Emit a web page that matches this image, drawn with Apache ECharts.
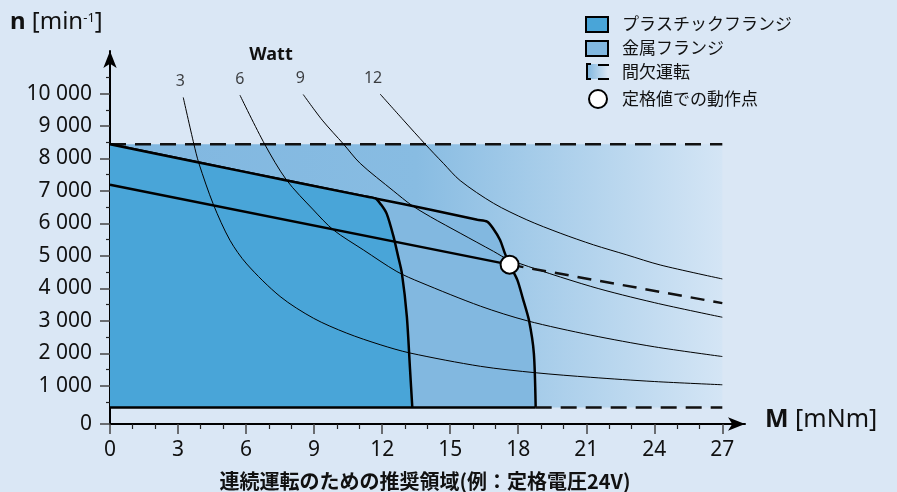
<!DOCTYPE html>
<html><head><meta charset="utf-8">
<script src="https://cdn.jsdelivr.net/npm/echarts@6/dist/echarts.min.js"></script>
<style>html,body{margin:0;padding:0;background:#dae7f5;}#c{width:897px;height:492px;}</style>
</head><body><div id="c"></div>
<script>
// ---- data ----
const xTicks = [0, 3, 6, 9, 12, 15, 18, 21, 24, 27];
const xMinorTicks = [1, 2, 4, 5, 7, 8, 10, 11, 13, 14, 16, 17, 19, 20, 22, 23, 25, 26];
const yTicks = [0, 1000, 2000, 3000, 4000, 5000, 6000, 7000, 8000, 9000, 10000];
const yMinorTicks = [500, 1500, 2500, 3500, 4500, 5500, 6500, 7500, 8500, 9500, 10500];
const wattNames = ['3', '6', '9', '12'];
const curve3W = [[3.23, 9880], [3.7, 8440], [3.92, 7850], [4.56, 6580], [5.29, 5480], [6.03, 4750], [7.5, 3750], [8.97, 3080], [10.44, 2620], [11.91, 2265], [13.23, 2008], [16.34, 1598], [18.77, 1400], [21.2, 1260], [24.0, 1130], [27, 1030]];
const curve6W = [[5.73, 9950], [6.82, 8440], [7.79, 7330], [8.97, 6415], [9.85, 5800], [11.17, 5185], [12.65, 4517], [13.67, 4190], [16.34, 3450], [18.4, 3000], [21.2, 2560], [24.0, 2200], [27, 1900]];
const curve9W = [[8.52, 9970], [9.36, 9180], [10.3, 8440], [11.03, 7850], [12.5, 7000], [13.3, 6560], [14.14, 6200], [15.44, 5700], [16.91, 5140], [17.6, 4880], [21.2, 4060], [24.0, 3560], [27, 3110]];
const curve12W = [[11.91, 9985], [12.94, 9180], [13.9, 8440], [14.7, 7850], [15.44, 7320], [16.91, 6620], [18.38, 6110], [19.85, 5700], [21.32, 5340], [22.79, 5030], [24.26, 4720], [27, 4290]];
const plasticFlange = [[0, 8440], [3.86, 7885], [7.79, 7320], [11.2, 6840], [11.7, 6770], [11.95, 6580], [12.2, 6300], [12.5, 5600], [12.7, 5000], [12.87, 4470], [13.09, 3130], [13.23, 1500], [13.33, 330]];
const metalFlange = [[0, 8440], [3.86, 7885], [7.79, 7320], [11.7, 6770], [14.14, 6420], [16.2, 6110], [16.63, 6055], [16.88, 5860], [17.2, 5490], [17.4, 5100], [17.62, 4730], [17.96, 4260], [18.2, 3700], [18.47, 3030], [18.69, 2000], [18.77, 330]];
const intermittentTop = [[0, 8440], [27, 8440]];
const baseSpeed = 330;
const baseSolid = [[0, 330], [18.77, 330]];
const baseDashed = [[18.77, 330], [27, 330]];
const unSolid = [[0, 7190], [17.62, 4730]];
const unDashed = [[17.62, 4730], [27, 3545]];
const ratedPoint = [[17.62, 4730]];
const legendNames = ['プラスチックフランジ', '金属フランジ', '間欠運転', '定格値での動作点'];

// ---- layout / style ----
const Y_MIN = -178, Y_MAX = 11310, X_MAX = 28;
const FONT = "'Noto Sans', 'Noto Sans CJK JP', sans-serif";
const JP = "'Noto Sans CJK JP', 'Noto Sans', sans-serif";
const fmtY = v => v <= Y_MIN ? '0' : String(v).replace(/\B(?=(\d{3})+(?!\d))/g, ' ');
const yMajor = yTicks.map(v => v === 0 ? Y_MIN : v);
const wattLabelOffsets = [[-3, 0], [0, 0], [-3, 0], [-7, 0]];
const curves = [curve3W, curve6W, curve9W, curve12W];

const chart = echarts.init(document.getElementById('c'), null, {renderer: 'canvas'});

const thin = data => ({type: 'line', data, symbol: 'none', smooth: 0.3,
  lineStyle: {color: '#000', width: 1}, z: 5, silent: true});

const option = {
  backgroundColor: '#dae7f5',
  animation: false,
  grid: {left: 110, right: 152, top: 51, bottom: 68},
  xAxis: [
    {type: 'value', min: 0, max: X_MAX, position: 'bottom',
      axisLine: {onZero: false, lineStyle: {color: '#000', width: 2}, symbol: ['none', 'arrow'], symbolSize: [10, 17]},
      axisTick: {customValues: xTicks, length: 10, lineStyle: {color: '#444', width: 1.5}},
      axisLabel: {customValues: xTicks, fontSize: 21, color: '#111', fontFamily: FONT, margin: 16},
      splitLine: {show: false}},
    {type: 'value', min: 0, max: X_MAX, position: 'bottom',
      axisLine: {show: false, onZero: false},
      axisTick: {customValues: xMinorTicks, length: 5, lineStyle: {color: '#222', width: 1.2}},
      axisLabel: {show: false}, splitLine: {show: false}}
  ],
  yAxis: [
    {type: 'value', min: Y_MIN, max: Y_MAX, position: 'left',
      axisLine: {show: true, onZero: false, lineStyle: {color: '#000', width: 2}, symbol: ['none', 'arrow'], symbolSize: [10, 17]},
      axisTick: {show: true, customValues: yMajor, length: 10, lineStyle: {color: '#444', width: 1.5}},
      axisLabel: {customValues: yMajor, formatter: fmtY, fontSize: 21, color: '#111', fontFamily: FONT, margin: 18},
      splitLine: {show: false}},
    {type: 'value', min: Y_MIN, max: Y_MAX, position: 'left',
      axisLine: {show: false, onZero: false},
      axisTick: {show: true, customValues: yMinorTicks, length: 4, lineStyle: {color: '#222', width: 1.2}},
      axisLabel: {show: false}, splitLine: {show: false}}
  ],
  series: [
    {type: 'line', data: intermittentTop, symbol: 'none', z: 1, silent: true,
      lineStyle: {color: '#111', width: 2.5, type: [16, 9]},
      areaStyle: {origin: baseSpeed, opacity: 1,
        color: new echarts.graphic.LinearGradient(0, 0, 1, 0, [
          {offset: 0, color: '#80b7e0'}, {offset: 0.5, color: '#88bce2'}, {offset: 1, color: '#d4e5f5'}])}},
    {type: 'line', data: metalFlange, symbol: 'none', smooth: 0.25, z: 2, silent: true,
      lineStyle: {color: '#000', width: 2.5}, areaStyle: {origin: baseSpeed, color: '#82b8e0', opacity: 1}},
    {type: 'line', data: plasticFlange, symbol: 'none', smooth: 0.25, z: 3, silent: true,
      lineStyle: {color: '#000', width: 2.5}, areaStyle: {origin: baseSpeed, color: '#49a5d8', opacity: 1}},
    {type: 'line', data: baseSolid, symbol: 'none', z: 4, lineStyle: {color: '#000', width: 2.5}, silent: true},
    {type: 'line', data: baseDashed, symbol: 'none', z: 4, lineStyle: {color: '#111', width: 2.5, type: [16, 9]}, silent: true},
    ...curves.map(thin),
    {type: 'scatter', symbolSize: 0, z: 6, silent: true,
      data: curves.map((c, i) => ({value: c[0], name: wattNames[i], label: {offset: wattLabelOffsets[i]}})),
      label: {show: true, position: 'top', distance: 8, formatter: p => p.name, fontSize: 16, color: '#111', fontFamily: FONT}},
    {type: 'line', data: unSolid, symbol: 'none', z: 7, lineStyle: {color: '#000', width: 2.5}, silent: true},
    {type: 'line', data: unDashed, symbol: 'none', z: 7, lineStyle: {color: '#111', width: 2.5, type: [14, 9]}, silent: true},
    {type: 'scatter', data: ratedPoint, symbol: 'circle', symbolSize: 18, z: 8, silent: true,
      itemStyle: {color: '#fff', borderColor: '#000', borderWidth: 2, opacity: 1}}
  ],
  graphic: [
    // axis titles
    {type: 'text', left: 10, top: 10, style: {
      text: '{b|n} [min{s|-1}]', fill: '#111',
      rich: {b: {fontSize: 24, fontWeight: 'bold', fontFamily: FONT}, s: {fontSize: 13, fontFamily: FONT, verticalAlign: 'top', padding: [2, 0, 0, 0]}},
      fontSize: 24, fontFamily: FONT}},
    {type: 'text', x: 765, y: 420, style: {
      text: '{b|M} [mNm]', fill: '#111', verticalAlign: 'middle',
      rich: {b: {fontSize: 25, fontWeight: 'bold', fontFamily: FONT}}, fontSize: 25, fontFamily: FONT}},
    {type: 'text', x: 271, y: 55, style: {text: 'Watt', fill: '#111', align: 'center', verticalAlign: 'middle', fontSize: 18, fontWeight: 'bold', fontFamily: FONT}},
    {type: 'text', x: 136, y: 178, style: {text: 'U', fill: '#111', verticalAlign: 'middle', fontSize: 20, fontStyle: 'italic', fontFamily: FONT}},
    {type: 'text', x: 150, y: 181, style: {text: 'N', fill: '#111', verticalAlign: 'middle', fontSize: 13, fontStyle: 'italic', fontFamily: FONT}},
    {type: 'text', x: 425, y: 481, style: {text: '連続運転のための推奨領域(例：定格電圧24V)', fill: '#111', align: 'center', verticalAlign: 'middle', fontSize: 20, fontWeight: 'bold', fontFamily: JP}},
    // legend
    {type: 'rect', shape: {x: 586, y: 17, width: 22, height: 15}, style: {fill: '#49a5d8', stroke: '#000', lineWidth: 2}},
    {type: 'rect', shape: {x: 586, y: 41, width: 22, height: 15}, style: {fill: '#82b8e0', stroke: '#000', lineWidth: 2}},
    {type: 'rect', shape: {x: 587, y: 64, width: 21, height: 15}, style: {fill: new echarts.graphic.LinearGradient(0, 0, 1, 0, [{offset: 0, color: '#7fb6df'}, {offset: 1, color: '#dae7f5'}])}},
    {type: 'polyline', shape: {points: [[591, 64], [587, 64], [587, 79], [591, 79]]}, style: {stroke: '#000', lineWidth: 2, fill: null}},
    {type: 'line', shape: {x1: 598, y1: 65, x2: 609, y2: 65}, style: {stroke: '#000', lineWidth: 2}},
    {type: 'line', shape: {x1: 598, y1: 79, x2: 609, y2: 79}, style: {stroke: '#000', lineWidth: 2}},
    {type: 'circle', shape: {cx: 598, cy: 99, r: 9}, style: {fill: '#fff', stroke: '#000', lineWidth: 2}},
    ...legendNames.map((t, i) => ({type: 'text', x: 622, y: [24, 48, 72, 99][i],
      style: {text: t, fill: '#111', verticalAlign: 'middle', fontSize: 17, fontFamily: JP}}))
  ]
};
chart.setOption(option);
</script>
</body></html>
